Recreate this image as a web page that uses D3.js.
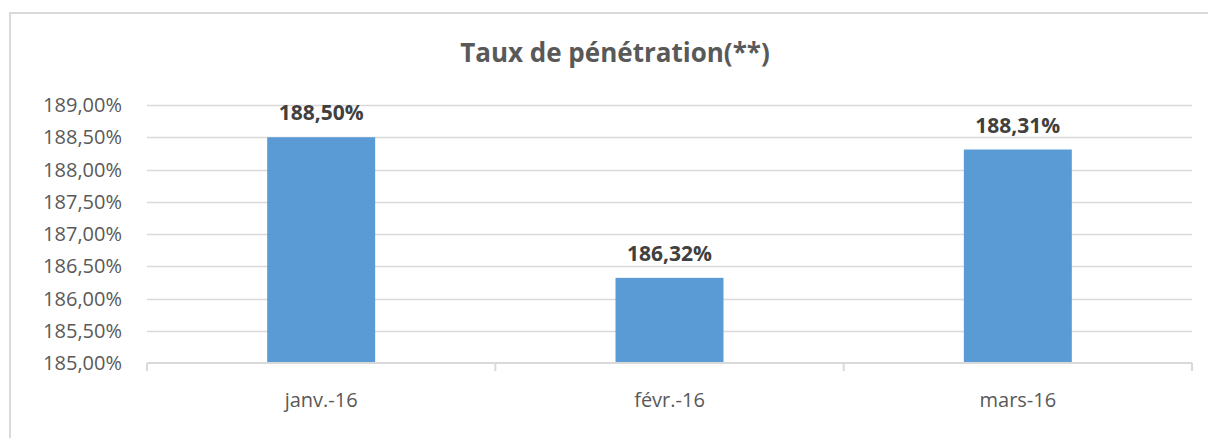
<!DOCTYPE html>
<html>
<head>
<meta charset="utf-8">
<script src="https://cdn.jsdelivr.net/npm/d3@7"></script>
<style>
  html, body { margin: 0; padding: 0; background: #fff; overflow: hidden; }
  svg { display: block; }
</style>
</head>
<body>
<div id="chart"></div>
<script>
'use strict';

// Data
const categories = ['janv.-16', 'févr.-16', 'mars-16'];
const values = [188.50, 186.32, 188.31];
const yTicks = [185, 185.5, 186, 186.5, 187, 187.5, 188, 188.5, 189];
const title = 'Taux de pénétration(**)';

const W = 1208, H = 438;
const margin = { left: 147, right: 16, top: 105, bottom: 75 };
const FONT = "'Open Sans', 'DejaVu Sans', sans-serif";

const svg = d3.select('#chart').append('svg')
    .attr('width', W)
    .attr('height', H);

// Chart border (cut off on the right and bottom in the reference)
svg.append('rect')
    .attr('x', 10)
    .attr('y', 13)
    .attr('width', 1400)
    .attr('height', 600)
    .attr('fill', 'none')
    .attr('stroke', '#d9d9d9')
    .attr('stroke-width', 2);

const x0 = margin.left, x1 = W - margin.right;
const yBase = H - margin.bottom;

const y = d3.scaleLinear()
    .domain([185, 189])
    .range([yBase, margin.top]);

// Category bands (for ticks) and bar bands
const xCat = d3.scaleBand()
    .domain(categories)
    .range([x0, x1]);

const xBar = d3.scaleBand()
    .domain(categories)
    .range([x0, x1])
    .paddingInner(0.69)
    .paddingOuter(0.345);

// Gridlines
svg.append('g')
    .selectAll('line')
    .data(yTicks.filter(t => t !== 185))
    .join('line')
    .attr('x1', x0)
    .attr('x2', x1)
    .attr('y1', d => Math.round(y(d)) + 0.5)
    .attr('y2', d => Math.round(y(d)) + 0.5)
    .attr('stroke', '#d9d9d9')
    .attr('stroke-width', 1.5);

// Y tick labels
const fmt = v => d3.format('.2f')(v).replace('.', ',') + '%';

svg.append('g')
    .selectAll('text')
    .data(yTicks)
    .join('text')
    .attr('x', 122)
    .attr('y', d => y(d))
    .attr('dy', '0.35em')
    .attr('text-anchor', 'end')
    .attr('fill', '#595959')
    .attr('font-family', FONT)
    .attr('font-size', 20)
    .text(fmt);

// Bars
svg.append('g')
    .selectAll('rect')
    .data(values)
    .join('rect')
    .attr('x', (d, i) => xBar(categories[i]))
    .attr('width', xBar.bandwidth())
    .attr('y', d => y(d))
    .attr('height', d => yBase - y(d))
    .attr('fill', '#5b9bd5');

// X axis line and ticks at band boundaries
const xAxis = svg.append('g');
xAxis.append('line')
    .attr('x1', x0)
    .attr('x2', x1)
    .attr('y1', yBase)
    .attr('y2', yBase)
    .attr('stroke', '#d9d9d9')
    .attr('stroke-width', 2);

const boundaries = categories.map(c => xCat(c)).concat([x1]);
xAxis.selectAll('line.tick')
    .data(boundaries)
    .join('line')
    .attr('class', 'tick')
    .attr('x1', d => d)
    .attr('x2', d => d)
    .attr('y1', yBase)
    .attr('y2', yBase + 8)
    .attr('stroke', '#d9d9d9')
    .attr('stroke-width', 2);

// Category labels
svg.append('g')
    .selectAll('text')
    .data(categories)
    .join('text')
    .attr('x', d => xCat(d) + xCat.bandwidth() / 2)
    .attr('y', yBase + 44)
    .attr('text-anchor', 'middle')
    .attr('fill', '#595959')
    .attr('font-family', FONT)
    .attr('font-size', 20)
    .text(d => d);

// Data labels
svg.append('g')
    .selectAll('text')
    .data(values)
    .join('text')
    .attr('x', (d, i) => xBar(categories[i]) + xBar.bandwidth() / 2)
    .attr('y', d => y(d) - 17)
    .attr('text-anchor', 'middle')
    .attr('fill', '#404040')
    .attr('font-family', FONT)
    .attr('font-size', 21)
    .attr('font-weight', 'bold')
    .text(fmt);

// Title
svg.append('text')
    .attr('x', 615)
    .attr('y', 62)
    .attr('text-anchor', 'middle')
    .attr('fill', '#595959')
    .attr('font-family', FONT)
    .attr('font-size', 26)
    .attr('font-weight', 'bold')
    .text(title);
</script>
</body>
</html>
